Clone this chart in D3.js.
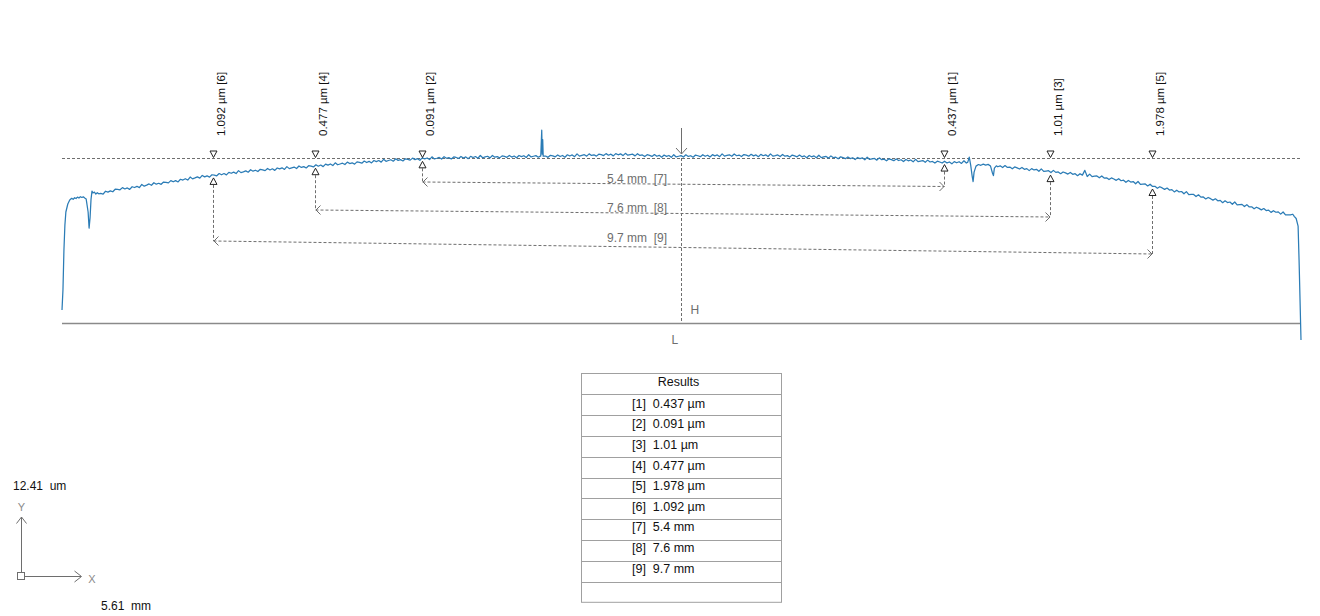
<!DOCTYPE html>
<html>
<head>
<meta charset="utf-8">
<script src="https://cdn.jsdelivr.net/npm/d3@7/dist/d3.min.js"></script>
<style>
  html, body { margin: 0; padding: 0; background: #fff; }
  svg { display: block; font-family: "Liberation Sans", Arial, sans-serif; }
</style>
</head>
<body>
<svg id="chart" width="1320" height="616"></svg>
<script>
// ---------- DATA ----------
// profile: [position (mm), height (µm)]
const profile = [
[0.00,0.98],[0.01,2.50],[0.02,5.49],[0.03,7.37],[0.04,8.35],[0.06,8.95],[0.08,9.25],[0.10,9.38],[0.115,9.30],[0.13,9.42],
[0.145,9.36],[0.16,9.47],[0.175,9.40],[0.19,9.50],[0.205,9.44],[0.22,9.49],[0.235,9.40],[0.25,9.32],[0.27,8.35],[0.28,7.14],
[0.29,7.90],[0.30,9.30],[0.31,9.92],[0.32,9.78],[0.335,9.85],[0.35,9.70],[0.365,9.80],[0.38,9.72],
[0.400,9.75],[0.425,9.69],[0.450,9.91],[0.475,9.84],[0.500,9.94],[0.525,9.87],[0.550,10.06],[0.575,10.05],[0.600,10.02],[0.625,10.18],
[0.650,10.08],[0.675,10.16],[0.700,10.05],[0.725,10.25],[0.750,10.19],[0.775,10.28],[0.800,10.18],[0.825,10.42],[0.850,10.29],[0.875,10.37],
[0.900,10.46],[0.925,10.36],[0.950,10.55],[0.975,10.44],[1.000,10.51],[1.025,10.43],[1.050,10.60],[1.075,10.58],[1.100,10.54],[1.125,10.71],
[1.150,10.62],[1.175,10.71],[1.200,10.61],[1.225,10.81],[1.250,10.75],[1.275,10.85],[1.300,10.75],[1.325,10.98],[1.350,10.84],[1.375,10.91],
[1.400,10.99],[1.425,10.90],[1.450,11.10],[1.475,10.99],[1.500,11.07],[1.525,10.97],[1.550,11.15],[1.575,11.12],[1.600,11.07],[1.625,11.24],
[1.650,11.15],[1.675,11.24],[1.700,11.14],[1.725,11.33],[1.750,11.26],[1.775,11.35],[1.800,11.24],[1.825,11.46],[1.850,11.31],[1.875,11.37],
[1.900,11.44],[1.925,11.34],[1.950,11.53],[1.975,11.42],[2.000,11.49],[2.025,11.39],[2.050,11.56],[2.075,11.52],[2.100,11.46],[2.125,11.62],
[2.150,11.51],[2.175,11.60],[2.200,11.48],[2.225,11.66],[2.250,11.59],[2.275,11.67],[2.300,11.55],[2.325,11.76],[2.350,11.61],[2.375,11.67],
[2.400,11.73],[2.425,11.62],[2.450,11.81],[2.475,11.70],[2.500,11.76],[2.525,11.66],[2.550,11.83],[2.575,11.80],[2.600,11.74],[2.625,11.90],
[2.650,11.79],[2.675,11.88],[2.700,11.76],[2.725,11.95],[2.750,11.87],[2.775,11.96],[2.800,11.84],[2.825,12.05],[2.850,11.90],[2.875,11.96],
[2.900,12.02],[2.925,11.92],[2.950,12.10],[2.975,11.99],[3.000,12.05],[3.025,11.95],[3.050,12.12],[3.075,12.08],[3.100,12.02],[3.125,12.18],
[3.150,12.07],[3.175,12.16],[3.200,12.04],[3.225,12.22],[3.250,12.14],[3.275,12.22],[3.300,12.10],[3.325,12.31],[3.350,12.16],[3.375,12.22],
[3.400,12.28],[3.425,12.17],[3.450,12.35],[3.475,12.23],[3.500,12.29],[3.525,12.19],[3.550,12.35],[3.575,12.31],[3.600,12.25],[3.625,12.40],
[3.650,12.29],[3.675,12.36],[3.700,12.24],[3.725,12.42],[3.750,12.34],[3.775,12.41],[3.800,12.29],[3.825,12.50],[3.850,12.34],[3.875,12.39],
[3.900,12.45],[3.925,12.33],[3.950,12.51],[3.975,12.39],[4.000,12.44],[4.025,12.34],[4.050,12.49],[4.075,12.45],[4.100,12.38],[4.125,12.53],
[4.150,12.41],[4.175,12.49],[4.200,12.36],[4.225,12.53],[4.250,12.45],[4.275,12.52],[4.300,12.39],[4.325,12.60],[4.350,12.43],[4.375,12.49],
[4.400,12.54],[4.425,12.42],[4.450,12.60],[4.475,12.47],[4.500,12.52],[4.525,12.42],[4.550,12.57],[4.575,12.53],[4.600,12.46],[4.625,12.60],
[4.650,12.48],[4.675,12.56],[4.700,12.43],[4.725,12.60],[4.750,12.51],[4.775,12.58],[4.800,12.45],[4.825,12.66],[4.850,12.49],[4.875,12.54],
[4.900,12.59],[4.925,12.47],[4.950,12.57],[4.960,14.50],[4.965,12.70],[4.970,13.80],[4.975,12.55],[5.000,12.56],[5.025,12.46],[5.050,12.61],
[5.075,12.57],[5.100,12.50],[5.125,12.64],[5.150,12.52],[5.175,12.60],[5.200,12.47],[5.225,12.65],[5.250,12.56],[5.275,12.64],[5.300,12.51],
[5.325,12.72],[5.350,12.55],[5.375,12.61],[5.400,12.66],[5.425,12.55],[5.450,12.72],[5.475,12.60],[5.500,12.65],[5.525,12.55],[5.550,12.70],
[5.575,12.66],[5.600,12.59],[5.625,12.74],[5.650,12.62],[5.675,12.70],[5.700,12.57],[5.725,12.74],[5.750,12.65],[5.775,12.72],[5.800,12.59],
[5.825,12.76],[5.850,12.62],[5.875,12.66],[5.900,12.70],[5.925,12.57],[5.950,12.73],[5.975,12.60],[6.000,12.64],[6.025,12.52],[6.050,12.66],
[6.075,12.61],[6.100,12.53],[6.125,12.67],[6.150,12.54],[6.175,12.61],[6.200,12.47],[6.225,12.63],[6.250,12.53],[6.275,12.60],[6.300,12.46],
[6.325,12.66],[6.350,12.49],[6.375,12.54],[6.400,12.59],[6.425,12.48],[6.450,12.65],[6.475,12.53],[6.500,12.58],[6.525,12.47],[6.550,12.63],
[6.575,12.58],[6.600,12.51],[6.625,12.66],[6.650,12.54],[6.675,12.62],[6.700,12.49],[6.725,12.66],[6.750,12.57],[6.775,12.64],[6.800,12.51],
[6.825,12.72],[6.850,12.55],[6.875,12.60],[6.900,12.65],[6.925,12.54],[6.950,12.71],[6.975,12.58],[7.000,12.63],[7.025,12.52],[7.050,12.67],
[7.075,12.62],[7.100,12.55],[7.125,12.69],[7.150,12.57],[7.175,12.64],[7.200,12.51],[7.225,12.68],[7.250,12.58],[7.275,12.65],[7.300,12.52],
[7.325,12.72],[7.350,12.55],[7.375,12.59],[7.400,12.64],[7.425,12.52],[7.450,12.68],[7.475,12.55],[7.500,12.59],[7.525,12.48],[7.550,12.63],
[7.575,12.57],[7.600,12.50],[7.625,12.63],[7.650,12.50],[7.675,12.57],[7.700,12.43],[7.725,12.60],[7.750,12.50],[7.775,12.57],[7.800,12.43],
[7.825,12.62],[7.850,12.44],[7.875,12.49],[7.900,12.53],[7.925,12.40],[7.950,12.57],[7.975,12.43],[8.000,12.47],[8.025,12.35],[8.050,12.50],
[8.075,12.44],[8.100,12.36],[8.125,12.49],[8.150,12.37],[8.175,12.43],[8.200,12.29],[8.225,12.45],[8.250,12.36],[8.275,12.42],[8.300,12.28],
[8.325,12.47],[8.350,12.30],[8.375,12.34],[8.400,12.38],[8.425,12.25],[8.450,12.42],[8.475,12.28],[8.500,12.32],[8.525,12.20],[8.550,12.35],
[8.575,12.29],[8.600,12.21],[8.625,12.34],[8.650,12.22],[8.675,12.28],[8.700,12.14],[8.725,12.30],[8.750,12.20],[8.775,12.26],[8.800,12.12],
[8.825,12.31],[8.850,12.14],[8.875,12.18],[8.900,12.22],[8.925,12.09],[8.950,12.25],[8.975,12.11],[9.000,12.15],[9.025,12.03],[9.050,12.17],
[9.075,12.11],[9.100,12.03],[9.125,12.17],[9.150,12.04],[9.175,12.11],[9.200,11.97],[9.225,12.14],[9.250,12.05],[9.275,12.13],[9.300,12.00],
[9.325,12.20],[9.350,12.03],[9.365,12.10],[9.380,12.48],[9.395,11.88],[9.410,11.05],[9.420,10.64],[9.430,11.35],[9.450,11.80],[9.475,11.92],
[9.500,11.86],[9.525,11.95],[9.550,11.88],[9.575,11.93],[9.600,11.80],[9.620,11.28],[9.630,11.09],[9.640,11.65],[9.660,11.82],[9.675,11.75],
[9.700,11.82],[9.725,11.69],[9.750,11.84],[9.775,11.70],[9.800,11.73],[9.825,11.60],[9.850,11.74],[9.875,11.67],[9.900,11.58],[9.925,11.70],
[9.950,11.56],[9.975,11.61],[10.000,11.46],[10.025,11.61],[10.050,11.51],[10.075,11.56],[10.100,11.41],[10.125,11.59],[10.150,11.40],[10.175,11.43],
[10.200,11.46],[10.225,11.32],[10.250,11.48],[10.275,11.33],[10.300,11.36],[10.325,11.23],[10.350,11.36],[10.375,11.29],[10.400,11.20],[10.425,11.32],
[10.450,11.18],[10.475,11.23],[10.500,11.08],[10.525,11.23],[10.550,11.12],[10.575,11.48],[10.600,11.02],[10.625,11.20],[10.650,11.01],[10.675,11.04],
[10.700,11.06],[10.725,10.92],[10.750,11.06],[10.775,10.90],[10.800,10.92],[10.825,10.79],[10.850,10.91],[10.875,10.83],[10.900,10.73],[10.925,10.85],
[10.950,10.70],[10.975,10.74],[11.000,10.58],[11.025,10.72],[11.050,10.60],[11.075,10.64],[11.100,10.47],[11.125,10.64],[11.150,10.43],[11.175,10.45],
[11.200,10.46],[11.225,10.31],[11.250,10.44],[11.275,10.27],[11.300,10.28],[11.325,10.13],[11.350,10.25],[11.375,10.16],[11.400,10.05],[11.425,10.15],
[11.450,10.00],[11.475,10.03],[11.500,9.86],[11.525,9.99],[11.550,9.86],[11.575,9.89],[11.600,9.72],[11.625,9.88],[11.650,9.66],[11.675,9.67],
[11.700,9.67],[11.725,9.51],[11.750,9.64],[11.775,9.47],[11.800,9.48],[11.825,9.33],[11.850,9.44],[11.875,9.35],[11.900,9.24],[11.925,9.34],
[11.950,9.19],[11.975,9.22],[12.000,9.05],[12.025,9.19],[12.050,9.06],[12.075,9.10],[12.100,8.93],[12.125,9.10],[12.150,8.89],[12.175,8.91],
[12.200,8.92],[12.225,8.76],[12.250,8.90],[12.275,8.73],[12.300,8.74],[12.325,8.59],[12.350,8.71],[12.375,8.62],[12.400,8.51],[12.425,8.61],
[12.450,8.46],[12.475,8.49],[12.500,8.32],[12.525,8.45],[12.550,8.33],[12.575,8.36],[12.600,8.19],[12.625,8.35],[12.650,8.13],[12.675,8.13],
[12.700,8.13],[12.725,8.18],[12.740,8.02],[12.760,7.86],[12.780,7.29],[12.790,4.74],[12.800,1.73],[12.810,-1.28]
];

// height markers (µm) and their positions (mm)
const markerIds    = [1, 2, 3, 4, 5, 6];
const markerValues = [0.437, 0.091, 1.01, 0.477, 1.978, 1.092];
const markerPos    = [9.12, 3.72, 10.22, 2.62, 11.27, 1.56];

// distance measurements (mm) between marker pairs
const distIds    = [7, 8, 9];
const distValues = [5.4, 7.6, 9.7];
const distFrom   = [2, 4, 6];
const distTo     = [1, 3, 5];

const referenceHeight = 12.41;   // µm, level of the dashed reference line
const centerPos = 6.40;          // mm
const axisLabels = { y: "12.41  um", x: "5.61  mm" };
const tableTitle = "Results";

// ---------- LAYOUT ----------
const svg = d3.select("#chart");
const x = d3.scaleLinear().domain([0, 12.81]).range([62, 1301]);
const y = d3.scaleLinear().domain([0, referenceHeight]).range([323, 158]);
const gray = "#6e6e6e";
const font = "'Liberation Sans', Arial, sans-serif";

svg.append("rect").attr("width", 1320).attr("height", 616).attr("fill", "#fff");

function heightAt(pos) {
  const i = d3.bisector(d => d[0]).left(profile, pos);
  const a = profile[Math.max(0, i - 1)], b = profile[Math.min(profile.length - 1, i)];
  if (b[0] === a[0]) return a[1];
  const t = (pos - a[0]) / (b[0] - a[0]);
  return a[1] + t * (b[1] - a[1]);
}

// reference dashed line
svg.append("line")
  .attr("x1", x(0)).attr("x2", x(12.81))
  .attr("y1", y(referenceHeight) + 0.5).attr("y2", y(referenceHeight) + 0.5)
  .attr("stroke", gray).attr("stroke-width", 1).attr("stroke-dasharray", "3,2");

// baseline (L axis)
svg.append("line")
  .attr("x1", x(0)).attr("x2", x(12.81))
  .attr("y1", y(0) + 0.5).attr("y2", y(0) + 0.5)
  .attr("stroke", "#8a8a8a").attr("stroke-width", 1.5);

// center vertical dashed line + arrow
const cx = Math.round(x(centerPos)) + 0.5;
svg.append("line").attr("x1", cx).attr("x2", cx)
  .attr("y1", y(referenceHeight)).attr("y2", y(0))
  .attr("stroke", gray).attr("stroke-dasharray", "3,2");
svg.append("line").attr("x1", cx).attr("x2", cx)
  .attr("y1", 128).attr("y2", 154)
  .attr("stroke", gray);
svg.append("path").attr("d", `M${cx - 5.5},148 L${cx},154 L${cx + 5.5},148`)
  .attr("fill", "none").attr("stroke", gray);
svg.append("text").attr("x", cx + 9).attr("y", 314).text("H")
  .attr("font-size", 12).attr("fill", gray).attr("font-family", font);
svg.append("text").attr("x", cx - 10).attr("y", 344).text("L")
  .attr("font-size", 12).attr("fill", gray).attr("font-family", font);

// distance dimension lines
const dimLeftY  = [182, 210, 241];
const dimRightY = [186.5, 217, 254];
const dimTextY  = [183, 211.5, 241.7];
const markerIndex = id => markerIds.indexOf(id);
const lowerApex = pos => y(heightAt(pos)) + 3;

distIds.forEach((id, k) => {
  const pa = markerPos[markerIndex(distFrom[k])], pb = markerPos[markerIndex(distTo[k])];
  const xa = Math.round(x(pa)) + 0.5, xb = Math.round(x(pb)) + 0.5;
  const ya = dimLeftY[k], yb = dimRightY[k];
  const g = svg.append("g").attr("stroke", gray).attr("fill", "none");
  g.append("line").attr("x1", xa).attr("x2", xa).attr("y1", lowerApex(pa) + 7).attr("y2", ya)
    .attr("stroke-dasharray", "3,2");
  g.append("line").attr("x1", xb).attr("x2", xb).attr("y1", lowerApex(pb) + 7).attr("y2", yb)
    .attr("stroke-dasharray", "3,2");
  g.append("line").attr("x1", xa).attr("x2", xb).attr("y1", ya).attr("y2", yb)
    .attr("stroke-dasharray", "3,2");
  g.append("path").attr("d", `M${xa + 5},${ya - 4.5} L${xa + 0.5},${ya} L${xa + 5},${ya + 4.5}`);
  g.append("path").attr("d", `M${xb - 5},${yb - 4.5} L${xb - 0.5},${yb} L${xb - 5},${yb + 4.5}`);
  svg.append("text").attr("x", 667).attr("y", dimTextY[k])
    .attr("text-anchor", "end").attr("font-size", 12).attr("fill", gray)
    .attr("font-family", font).attr("xml:space", "preserve")
    .text(`${distValues[k]} mm  [${id}]`);
});

// profile line
svg.append("path").datum(profile)
  .attr("d", d3.line().x(d => x(d[0])).y(d => y(d[1])))
  .attr("fill", "none").attr("stroke", "#2b7cb6").attr("stroke-width", 1.25)
  .attr("stroke-linejoin", "round");

// height markers
markerIds.forEach((id, i) => {
  const px = Math.round(x(markerPos[i])) + 0.5;
  const top = y(referenceHeight) - 0.5;
  const ap = lowerApex(markerPos[i]);
  svg.append("path")
    .attr("d", `M${px},${top} L${px - 3.5},${top - 6.5} L${px + 3.5},${top - 6.5} Z`)
    .attr("fill", "#fff").attr("stroke", "#222").attr("stroke-width", 1);
  svg.append("path")
    .attr("d", `M${px},${ap} L${px - 3.5},${ap + 6.5} L${px + 3.5},${ap + 6.5} Z`)
    .attr("fill", "#fff").attr("stroke", "#222").attr("stroke-width", 1);
  svg.append("text")
    .attr("transform", `translate(${px + 11.5},136) rotate(-90)`)
    .attr("font-size", 11.5).attr("fill", "#111").attr("font-family", font)
    .text(`${markerValues[i]} µm [${id}]`);
});

// results table
const rows = [tableTitle]
  .concat(markerIds.map((id, i) => `[${id}]  ${markerValues[i]} µm`))
  .concat(distIds.map((id, k) => `[${id}]  ${distValues[k]} mm`))
  .concat([""]);
const tx0 = 581.5, tx1 = 781.5, ty0 = 373.5, rh = 20.8;
const tg = svg.append("g");
tg.append("rect").attr("x", tx0).attr("y", ty0).attr("width", tx1 - tx0).attr("height", rh * rows.length)
  .attr("fill", "#fff").attr("stroke", "#a0a0a0");
rows.forEach((r, i) => {
  if (i > 0) tg.append("line").attr("x1", tx0).attr("x2", tx1)
    .attr("y1", Math.round(ty0 + rh * i) + 0.5).attr("y2", Math.round(ty0 + rh * i) + 0.5)
    .attr("stroke", "#a0a0a0");
  tg.append("text")
    .attr("x", i === 0 ? (tx0 + tx1) / 2 - 3 : 632)
    .attr("y", i === 0 ? 385.5 : 407.8 + 20.6 * (i - 1))
    .attr("text-anchor", i === 0 ? "middle" : "start")
    .attr("font-size", 12.5).attr("fill", "#111").attr("font-family", font)
    .attr("xml:space", "preserve")
    .text(r);
});

// scale indicator (bottom-left)
const ig = svg.append("g").attr("stroke", gray).attr("fill", "none");
ig.append("line").attr("x1", 21.5).attr("x2", 21.5).attr("y1", 572).attr("y2", 517);
ig.append("path").attr("d", "M16.5,523.5 L21.5,517 L26.5,523.5");
ig.append("rect").attr("x", 17.5).attr("y", 572.5).attr("width", 7).attr("height", 7);
ig.append("line").attr("x1", 24.5).attr("x2", 81).attr("y1", 576.5).attr("y2", 576.5);
ig.append("path").attr("d", "M74.5,571 L81.5,576.5 L74.5,582");
svg.append("text").attr("x", 21.5).attr("y", 511).attr("text-anchor", "middle")
  .attr("font-size", 11).attr("fill", "#8a8a8a").attr("font-family", font).text("Y");
svg.append("text").attr("x", 92).attr("y", 583).attr("text-anchor", "middle")
  .attr("font-size", 11).attr("fill", "#8a8a8a").attr("font-family", font).text("X");
svg.append("text").attr("x", 13).attr("y", 489.5)
  .attr("font-size", 12).attr("fill", "#111").attr("font-family", font)
  .attr("xml:space", "preserve").text(axisLabels.y);
svg.append("text").attr("x", 101).attr("y", 609.5)
  .attr("font-size", 12).attr("fill", "#111").attr("font-family", font)
  .attr("xml:space", "preserve").text(axisLabels.x);
</script>
</body>
</html>
